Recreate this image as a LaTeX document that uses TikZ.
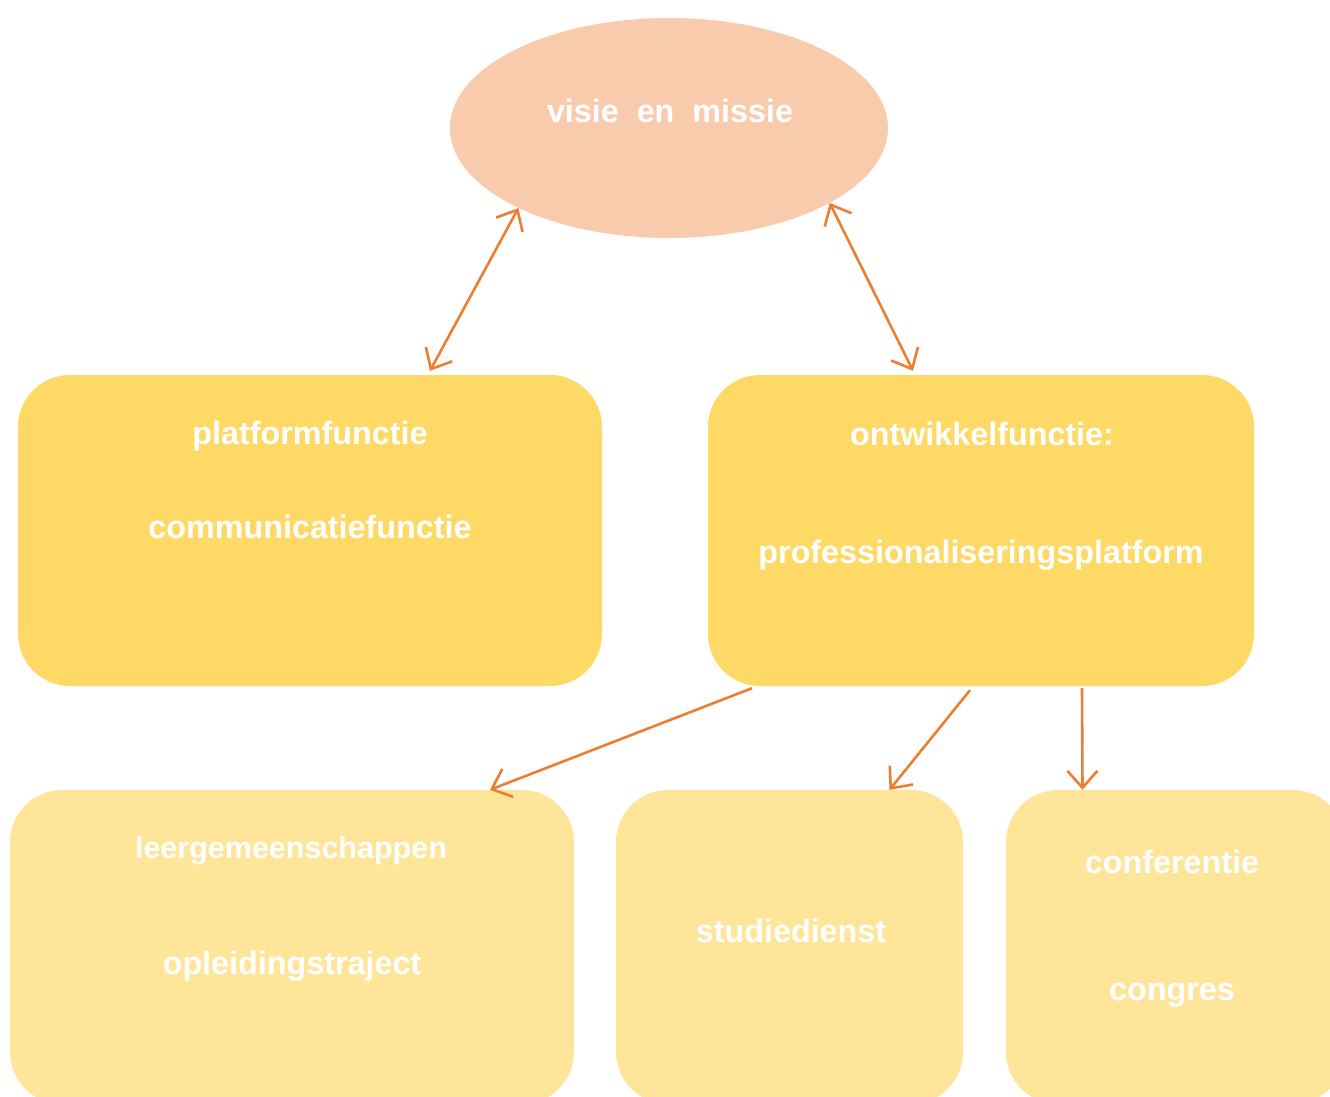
\documentclass[tikz,border=0pt]{standalone}
\usepackage{fontspec}
\setmainfont{Liberation Sans}
\usetikzlibrary{arrows.meta,shapes.geometric}
\definecolor{elfill}{HTML}{F8CBAD}
\definecolor{midfill}{HTML}{FFD966}
\definecolor{lowfill}{HTML}{FFE599}
\definecolor{arr}{HTML}{ED7D31}
\begin{document}
\begin{tikzpicture}[x=1pt,y=-1pt,
  ell/.style={ellipse,fill=elfill,draw=none,minimum width=438pt,minimum height=220pt,inner sep=0pt},
  midbox/.style={rectangle,rounded corners=52pt,fill=midfill,draw=none,inner sep=0pt},
  lowbox/.style={rectangle,rounded corners=52pt,fill=lowfill,draw=none,inner sep=0pt},
  lbl/.style={text=white,font=\bfseries\fontsize{32.3}{38}\selectfont,inner sep=0pt},
  con/.style={draw=arr,line width=2.6pt,{Straight Barb[length=17pt,width=30pt]}-{Straight Barb[length=17pt,width=30pt]}},
  con1/.style={draw=arr,line width=2.6pt,-{Straight Barb[length=17pt,width=30pt]}}]
\useasboundingbox (0,0) rectangle (1330,1097);
\node[ell] (vm) at (669,128) {};
\node[midbox,minimum width=584pt,minimum height=311pt] (b1) at (310,530.5) {};
\node[midbox,minimum width=546pt,minimum height=311pt] (b2) at (981,530.5) {};
\node[lowbox,minimum width=564pt,minimum height=314pt] (b3) at (292,947) {};
\node[lowbox,minimum width=347pt,minimum height=314pt] (b4) at (789.5,947) {};
\node[lowbox,minimum width=339pt,minimum height=314pt] (b5) at (1175.5,947) {};

\node[lbl] (t0) at (670,111) {visie\ \ en\ \ missie};
\node[lbl] (t1) at (310,436) {platformfunctie};
\node[lbl] (t2) at (310,527) {communicatiefunctie};
\node[lbl] (t3) at (982,434) {ontwikkelfunctie:};
\node[lbl] (t4) at (981,555) {professionaliseringsplatform};
\node[lbl,font=\bfseries\fontsize{30.5}{36}\selectfont] (t5) at (291,851) {leergemeenschappen};
\node[lbl] (t6) at (292,966) {opleidingstraject};
\node[lbl] (t7) at (791,931) {studiedienst};
\node[lbl] (t8) at (1172,862) {conferentie};
\node[lbl] (t9) at (1172,995) {congres};

\draw[con] ([xshift=120pt,yshift=4pt]b1.north) -- (vm.208.7);
\draw[con] ([xshift=-68pt,yshift=4pt]b2.north) -- (vm.335.5);
\draw[con1] ([xshift=-229pt,yshift=-2pt]b2.south) -- ([xshift=198pt]b3.north);
\draw[con1] ([xshift=-11pt,yshift=-4pt]b2.south) -- ([xshift=100pt]b4.north);
\draw[con1] ([xshift=101pt,yshift=-2pt]b2.south) -- ([xshift=-93pt]b5.north);
\end{tikzpicture}
\end{document}
